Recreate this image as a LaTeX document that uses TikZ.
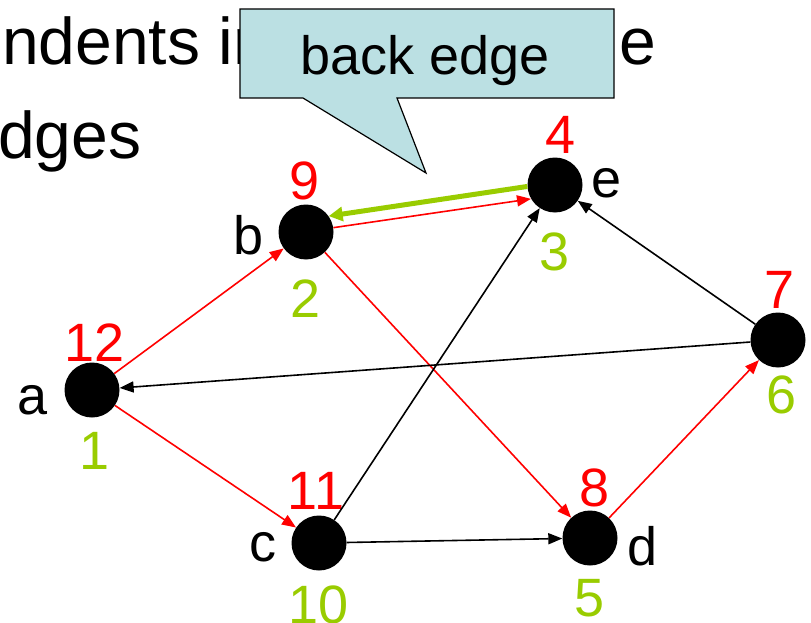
\documentclass[tikz,border=0pt]{standalone}
\usepackage{fontspec}
\setmainfont{Liberation Sans}
\usetikzlibrary{arrows.meta}
\definecolor{prec}{RGB}{255,0,0}
\definecolor{postc}{RGB}{153,204,0}
\definecolor{notec}{RGB}{187,224,227}

\begin{document}
\begin{tikzpicture}[x=1pt, y=-1pt,
  vert/.style={circle, fill=black, minimum size=55pt, inner sep=0pt},
  lbl/.style={inner sep=0pt, font=\fontsize{54}{58}\selectfont},
  pre/.style={lbl, text=prec}, post/.style={lbl, text=postc},
  tree/.style={prec, line width=1.6pt, -{Triangle[length=14pt,width=11pt]}},
  other/.style={black, line width=1.6pt, -{Triangle[length=14pt,width=11pt]}},
  back/.style={postc, line width=5pt, -{Triangle[length=14pt,width=14pt]}}]
  \useasboundingbox (0,0) rectangle (811,623);
  % slide text behind the callout
  \node[anchor=base west, inner sep=0pt, font=\fontsize{66}{70}\selectfont] (line1) at (2,65) {ndents in};
  \node[anchor=base west, inner sep=0pt, font=\fontsize{66}{70}\selectfont] (line1e) at (619,65) {e};
  \node[anchor=base west, inner sep=0pt, font=\fontsize{66}{70}\selectfont] (line2) at (-2,158) {dges};
  % callout
  \draw[fill=notec, line width=1.2pt] (240,9) -- (614,9) -- (614,98) -- (397,98) -- (426,173)
    -- (303,98) -- (240,98) -- cycle;
  \node[lbl] (note) at (425,61) {back edge};
  % vertices
  \node[vert] (a) at (92,390) {};
  \node[vert] (b) at (306,232) {};
  \node[vert] (c) at (319,543) {};
  \node[vert] (d) at (590,538) {};
  \node[vert] (e) at (555,185) {};
  \node[vert] (f) at (778,340) {};
  % names
  \node[lbl] (a-name) at (33,400) {a};
  \node[lbl] (b-name) at (249,235) {b};
  \node[lbl] (c-name) at (263,547) {c};
  \node[lbl] (d-name) at (643,546) {d};
  \node[lbl] (e-name) at (607,183) {e};
  % numbers
  \node[pre] (a-pre) at (95,343) {12};
  \node[post] (a-post) at (95,451) {1};
  \node[pre] (b-pre) at (305,181) {9};
  \node[post] (b-post) at (306,299) {2};
  \node[pre] (c-pre) at (316,491) {11};
  \node[post] (c-post) at (319,605) {10};
  \node[pre] (d-pre) at (595,488) {8};
  \node[post] (d-post) at (590,598) {5};
  \node[pre] (e-pre) at (561,135) {4};
  \node[post] (e-post) at (555,252) {3};
  \node[pre] (f-pre) at (780,290) {7};
  \node[post] (f-post) at (782,395) {6};
  % edges
  \draw[tree] (a) -- (b);
  \draw[tree] (a) -- (c);
  \draw[tree] (b.9) -- (e.210);
  \draw[tree] (b) -- (d);
  \draw[tree] (d) -- (f);
  \draw[back] (e.183) -- (b.35);
  \draw[other] (c) -- (e);
  \draw[other] (c) -- (d);
  \draw[other] (f) -- (e);
  \draw[other] (f) -- (a);
\end{tikzpicture}
\end{document}
